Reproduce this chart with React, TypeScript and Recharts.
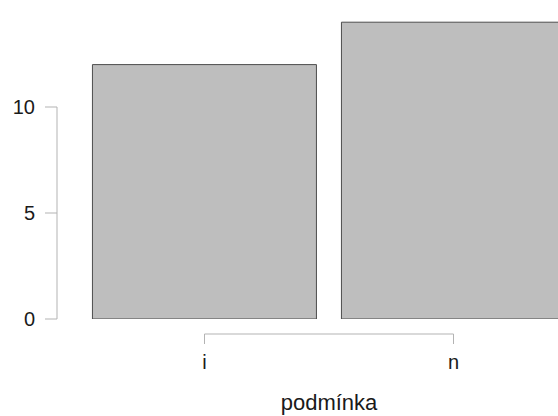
import React from "react";
import { BarChart, Bar, XAxis, YAxis } from "recharts";

// data
const categories = ["i", "n"];
const counts = [12, 14];
const yTicks = [0, 5, 10];
const xTitle = "podmínka";

const data = categories.map((c, i) => ({ name: c, value: counts[i] }));

const W = 579;
const H = 416;
const TOP = 1;
const Y_MAX = 15;
const PLOT_H = 318; // 0 sits at y=319
const PPU = PLOT_H / Y_MAX;
const BAND = 249;
const AXIS_COL = "#b3b3b3";
const FONT = "'Liberation Sans', Arial, sans-serif";

const YTick = (props: any) => {
  const { y, payload } = props;
  const ax = 57;
  const v = payload.value as number;
  const top = yTicks[yTicks.length - 1];
  return (
    <g>
      <line x1={ax - 12} x2={ax} y1={y} y2={y} stroke={AXIS_COL} />
      {v < top && (
        <line x1={ax} x2={ax} y1={y} y2={y - 5 * PPU} stroke={AXIS_COL} />
      )}
      <text
        x={ax - 22}
        y={y}
        textAnchor="end"
        dominantBaseline="central"
        fontSize={20}
        fontFamily={FONT}
        fill="#1a1a1a"
      >
        {v}
      </text>
    </g>
  );
};

const XTick = (props: any) => {
  const { x, payload, index } = props;
  const y0 = TOP + PLOT_H + 15;
  return (
    <g>
      <line x1={x} x2={x} y1={y0} y2={y0 + 10} stroke={AXIS_COL} />
      {index === 0 && (
        <line x1={x} x2={x + BAND} y1={y0} y2={y0} stroke={AXIS_COL} />
      )}
      <text
        x={x}
        y={y0 + 28}
        textAnchor="middle"
        dominantBaseline="central"
        fontSize={20}
        fontFamily={FONT}
        fill="#1a1a1a"
      >
        {payload.value}
      </text>
    </g>
  );
};

export default function App() {
  return (
    <div
      style={{
        position: "fixed",
        left: 0,
        top: 0,
        width: 558,
        height: 416,
        overflow: "hidden",
        background: "#fff",
      }}
    >
      <BarChart
        width={W}
        height={H}
        data={data}
        margin={{ top: TOP, right: 1, left: 0, bottom: 0 }}
        barCategoryGap="5%"
      >
        <YAxis
          width={80}
          domain={[0, Y_MAX]}
          ticks={yTicks}
          axisLine={false}
          tickLine={false}
          tick={<YTick />}
          allowDataOverflow
        />
        <XAxis
          dataKey="name"
          height={H - TOP - PLOT_H}
          axisLine={false}
          tickLine={false}
          tick={<XTick />}
          interval={0}
        />
        <Bar
          dataKey="value"
          fill="#bebebe"
          stroke="#4d4d4d"
          strokeWidth={1}
          isAnimationActive={false}
        />
        <text
          x={329}
          y={402}
          textAnchor="middle"
          dominantBaseline="central"
          fontSize={22}
          fontFamily={FONT}
          fill="#1a1a1a"
        >
          {xTitle}
        </text>
      </BarChart>
    </div>
  );
}
